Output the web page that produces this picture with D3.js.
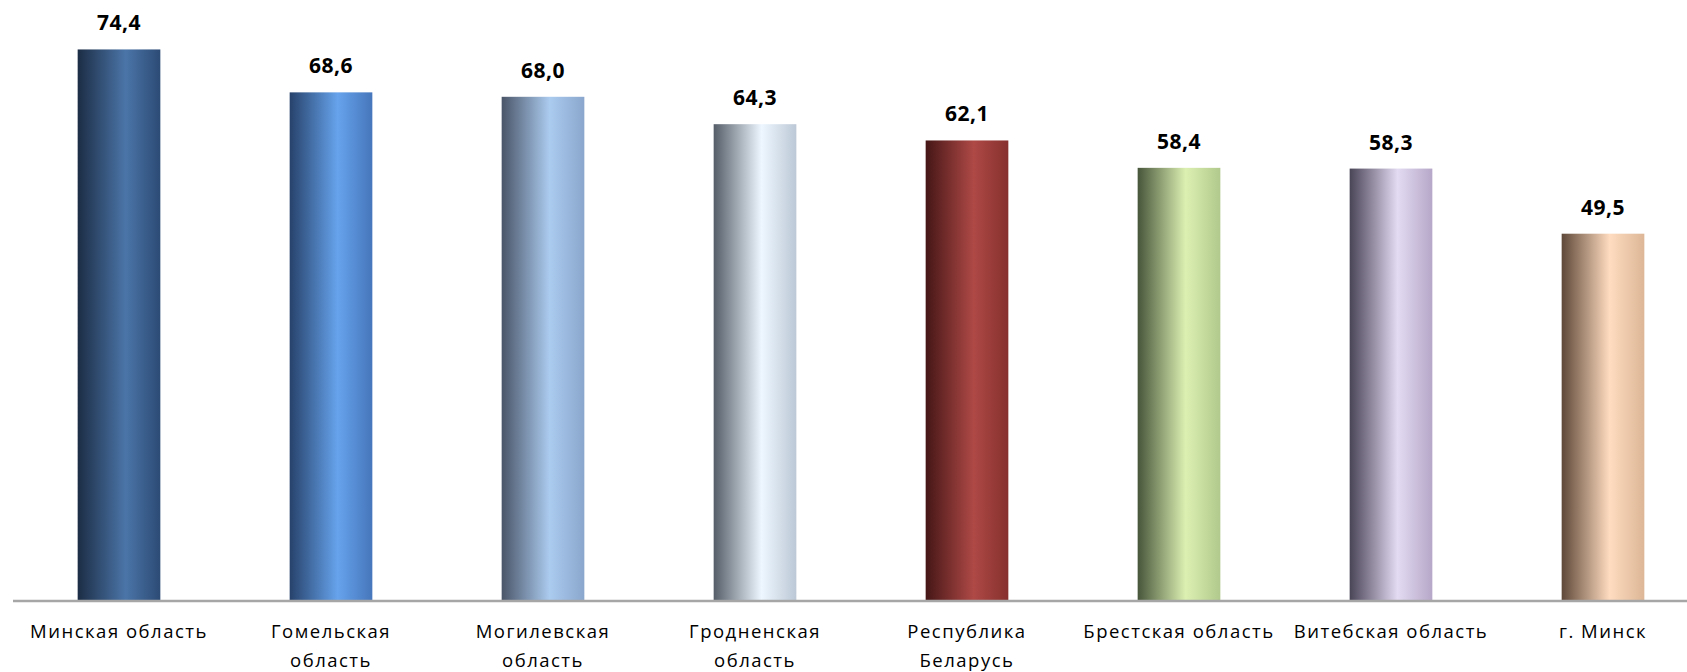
<!DOCTYPE html>
<html lang="ru">
<head>
<meta charset="UTF-8">
<title>Bar chart</title>
<style>
  body { margin: 0; background: #fff; }
  svg { display: block; }
  .lbl { font-family: "Open Sans", "DejaVu Sans", sans-serif; font-size: 18.5px; fill: #000; letter-spacing: 1.5px; }
  .val { font-family: "Open Sans", "DejaVu Sans", sans-serif; font-size: 21px; font-weight: bold; fill: #000; letter-spacing: 0.5px; }
</style>
</head>
<body>
<div id="chart"></div>
<script src="https://cdn.jsdelivr.net/npm/d3@7"></script>
<script>
// regions, in the order they are drawn
const categories = ['Минская область', 'Гомельская область', 'Могилевская область', 'Гродненская область',
  'Республика Беларусь', 'Брестская область', 'Витебская область', 'г. Минск']
const tickLabels = [['Минская область'], ['Гомельская', 'область'], ['Могилевская', 'область'], ['Гродненская', 'область'],
  ['Республика', 'Беларусь'], ['Брестская область'], ['Витебская область'], ['г. Минск']]
const values = [74.4, 68.6, 68.0, 64.3, 62.1, 58.4, 58.3, 49.5]
// dark edge / highlight / right edge for each cylinder
const colorsDark = ['#1c2d45', '#27426b', '#4a5568', '#555d68', '#451616', '#47553a', '#4a4457', '#5e4838']
const colorsLight = ['#4b75a8', '#66a3ec', '#abcbef', '#eef7ff', '#ae4946', '#dcf0b2', '#e3dbf2', '#ffdcc0']
const colorsRight = ['#2c4b75', '#4676bb', '#8aa6cc', '#bcc8d6', '#86302d', '#b1c98c', '#b6a7c8', '#dcb696']

const width = 1687, height = 672

const x = d3.scaleBand()
  .domain(categories)
  .range([13, 1709])
  .paddingInner(0.61)
  .paddingOuter(0.305)

const y = d3.scaleLinear()
  .domain([0, 80])
  .range([600, 8])

const svg = d3.select('#chart').append('svg')
  .attr('width', width)
  .attr('height', height)

const defs = svg.append('defs')
categories.forEach((c, i) => {
  const g = defs.append('linearGradient')
    .attr('id', 'grad' + i)
    .attr('x1', '0%').attr('x2', '100%')
    .attr('y1', '0%').attr('y2', '0%')
  g.append('stop').attr('offset', '0%').attr('stop-color', colorsDark[i])
  g.append('stop').attr('offset', '58%').attr('stop-color', colorsLight[i])
  g.append('stop').attr('offset', '100%').attr('stop-color', colorsRight[i])
})

svg.selectAll('.bar')
  .data(values)
  .join('rect')
  .attr('class', 'bar')
  .attr('x', (d, i) => x(categories[i]))
  .attr('width', x.bandwidth())
  .attr('y', d => y(d))
  .attr('height', d => y(0) - y(d))
  .attr('fill', (d, i) => `url(#grad${i})`)

svg.selectAll('.val')
  .data(values)
  .join('text')
  .attr('class', 'val')
  .attr('x', (d, i) => x(categories[i]) + x.bandwidth() / 2)
  .attr('y', d => y(d) - 19)
  .attr('text-anchor', 'middle')
  .text(d => d.toFixed(1).replace('.', ','))

// axis line
svg.append('line')
  .attr('x1', 13).attr('x2', width)
  .attr('y1', y(0) + 1).attr('y2', y(0) + 1)
  .attr('stroke', '#a6a6a6')
  .attr('stroke-width', 2.5)

const lbl = svg.selectAll('.lbl')
  .data(tickLabels)
  .join('text')
  .attr('class', 'lbl')
  .attr('x', (d, i) => x(categories[i]) + x.bandwidth() / 2)
  .attr('y', 638)
  .attr('text-anchor', 'middle')

lbl.selectAll('tspan')
  .data(d => d)
  .join('tspan')
  .attr('x', function () { return this.parentNode.getAttribute('x') })
  .attr('dy', (d, j) => j === 0 ? 0 : 29)
  .text(d => d)
</script>
</body>
</html>
